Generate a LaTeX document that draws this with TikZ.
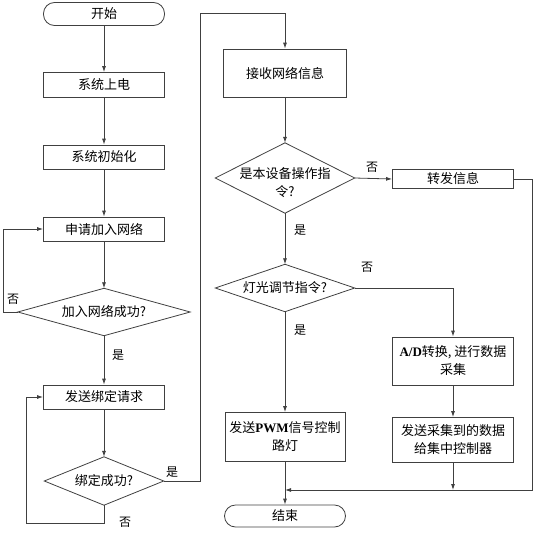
\documentclass[tikz,border=0pt]{standalone}
\usepackage{fontspec}
\setmainfont{Noto Sans CJK SC}
\newfontfamily\lat{Liberation Serif}
\usetikzlibrary{arrows.meta}
\begin{document}
\begin{tikzpicture}[x=1pt,y=-1pt,
  line/.style={draw=black!75, line width=0.8pt},
  arr/.style={line, -{Latex[length=6pt,width=4pt]}},
  box/.style={draw=black!75, line width=0.8pt, rectangle, inner sep=0pt, align=center, font=\fontsize{13}{18}\selectfont},
  term/.style={box, rounded corners=11pt},
  dia/.style={rectangle, inner sep=0pt, align=center, font=\fontsize{13}{18}\selectfont},
  lab/.style={font=\fontsize{12}{14}\selectfont, inner sep=0pt}]
\useasboundingbox (0,0) rectangle (533,533);
\node[term, minimum width=121pt, minimum height=23pt] (start) at (104,14) {开始};
\node[box, minimum width=121pt, minimum height=25pt] (power) at (104,85) {系统上电};
\node[box, minimum width=121pt, minimum height=24pt] (init) at (104,157) {系统初始化};
\node[box, minimum width=121pt, minimum height=24pt] (join) at (104,229) {申请加入网络};
\node[dia, minimum width=172pt, minimum height=47pt] (joinok) at (104,312) {加入网络成功?};
\node[box, minimum width=121pt, minimum height=24pt] (bind) at (104,397) {发送绑定请求};
\node[dia, minimum width=119pt, minimum height=48pt] (bindok) at (104,481) {绑定成功?};
\node[box, minimum width=123pt, minimum height=48pt] (recv) at (285,73) {接收网络信息};
\node[dia, minimum width=139pt, minimum height=70pt] (self) at (285,178) {};
\node[dia] (selft) at (285,183) {是本设备操作指\\令?};
\node[box, minimum width=121pt, minimum height=19pt] (fwd) at (453,179) {转发信息};
\node[dia, minimum width=139pt, minimum height=47pt] (light) at (285,288) {灯光调节指令?};
\node[box, minimum width=121pt, minimum height=48pt] (ad) at (453,361) {{\lat\bfseries A/D}转换, 进行数据\\采集};
\node[box, minimum width=121pt, minimum height=45pt] (send) at (453,440) {发送采集到的数据\\给集中控制器};
\node[box, minimum width=120pt, minimum height=49pt] (pwm) at (285,437) {发送{\lat\bfseries PWM}信号控制\\路灯};
\node[term, minimum width=121pt, minimum height=22pt] (end) at (285,516) {结束};
% diamonds
\foreach \d in {joinok,bindok,self,light}
  \draw[line] (\d.west) -- (\d.north) -- (\d.east) -- (\d.south) -- cycle;
% coordinates
\coordinate (c1) at (26,523);
\coordinate (c2) at (200,13);
\coordinate (c3) at (532,490);
\coordinate (j) at (285,490);
\coordinate (c0) at (3,312);
% connectors
\draw[arr] (start) -- (power);
\draw[arr] (power) -- (init);
\draw[arr] (init) -- (join);
\draw[arr] (join) -- (joinok.north);
\draw[arr] (joinok.south) -- (bind);
\draw[arr] (joinok.west) -- (c0) |- (join.west);
\draw[arr] (bind) -- (bindok.north);
\draw[arr] (bindok.south) |- (c1) |- (bind.west);
\draw[arr] (bindok.east) -| (c2) -| (recv.north);
\draw[arr] (recv) -- (self.north);
\draw[arr] (self.east) -- (fwd.west);
\draw[arr] (fwd.east) -| (c3) -- (j);
\draw[arr] (self.south) -- (light.north);
\draw[arr] (light.east) -| (ad.north);
\draw[arr] (light.south) -- (pwm.north);
\draw[arr] (ad) -- (send);
\draw[arr] (send.south) -- (send.south |- j);
\draw[arr] (pwm) -- (end);
% labels
\node[lab] (l1) at (13,299) {否};
\node[lab] (l2) at (118,355) {是};
\node[lab] (l3) at (172,472) {是};
\node[lab] (l4) at (125,522) {否};
\node[lab] (l5) at (372,167) {否};
\node[lab] (l6) at (300,230) {是};
\node[lab] (l7) at (367,267) {否};
\node[lab] (l8) at (300,330) {是};
\end{tikzpicture}
\end{document}
